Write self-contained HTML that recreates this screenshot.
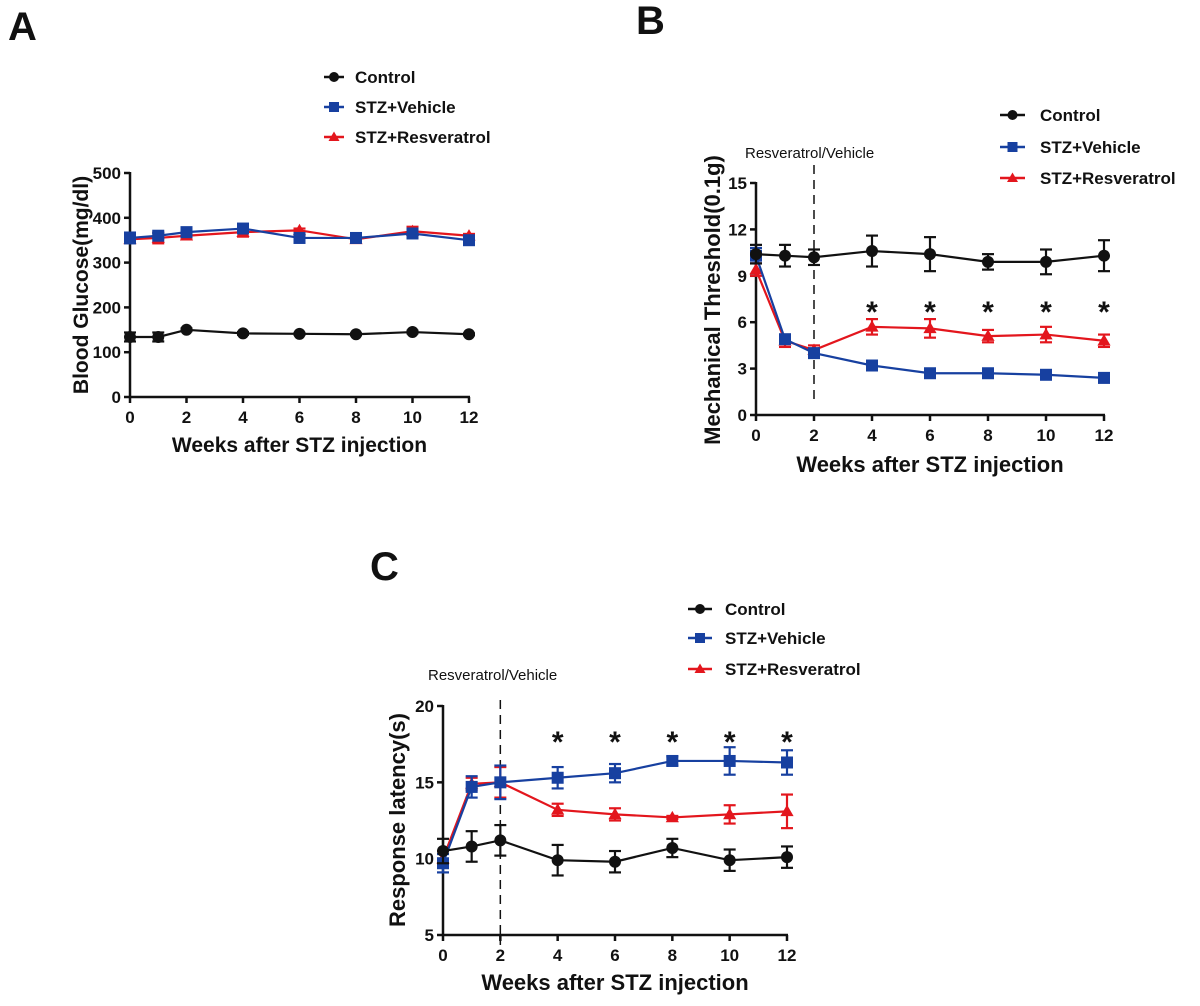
<!DOCTYPE html>
<html><head><meta charset="utf-8"><style>
html,body{margin:0;padding:0;background:#fff;}
svg{display:block;font-family:"Liberation Sans",Arial,sans-serif;}
.t{font-weight:bold;fill:#111;}
</style></head><body>
<svg id="s" width="1200" height="1006" viewBox="0 0 1200 1006" xmlns="http://www.w3.org/2000/svg">
<text x="8" y="40" class="t" font-size="40">A</text>
<text x="636" y="34" class="t" font-size="40">B</text>
<text x="370" y="580" class="t" font-size="40">C</text>
</svg>
<script>
var s=document.getElementById('s'),NS='http://www.w3.org/2000/svg';
function el(n,a,t){var e=document.createElementNS(NS,n);for(var k in a)e.setAttribute(k,a[k]);if(t!=null)e.textContent=t;s.appendChild(e);return e;}
var BK='#111',BL='#1740a0',RD='#e3161d';
function marker(type,x,y,c,r){
 if(type=='c')el('circle',{cx:x,cy:y,r:r,fill:c});
 else if(type=='s')el('rect',{x:x-r,y:y-r,width:2*r,height:2*r,fill:c});
 else el('polygon',{points:(x)+','+(y-r*1.1)+' '+(x-r*1.1)+','+(y+r*0.8)+' '+(x+r*1.1)+','+(y+r*0.8),fill:c});
}
function panel(o){
 var X=function(w){return o.x0+(o.x1-o.x0)*w/12},Y=function(v){return o.y0+(o.yt-o.y0)*(v-o.ymin)/(o.ymax-o.ymin)};
 el('line',{x1:o.x0,y1:o.yt-1,x2:o.x0,y2:o.y0+1,stroke:BK,'stroke-width':2.5});
 el('line',{x1:o.x0-1,y1:o.y0,x2:o.x1+1,y2:o.y0,stroke:BK,'stroke-width':2.5});
 o.yt2.forEach(function(v){var y=Y(v);el('line',{x1:o.x0-6,y1:y,x2:o.x0,y2:y,stroke:BK,'stroke-width':2.5});
  el('text',{x:o.x0-9,y:y+6,'text-anchor':'end','font-size':17,class:'t'},v);});
 [0,2,4,6,8,10,12].forEach(function(w){var x=X(w);el('line',{x1:x,y1:o.y0,x2:x,y2:o.y0+6,stroke:BK,'stroke-width':2.5});
  el('text',{x:x,y:o.y0+26,'text-anchor':'middle','font-size':17,class:'t'},w);});
 var wk=[0,1,2,4,6,8,10,12];
 if(o.dash){el('line',{x1:X(2),y1:o.dash[0],x2:X(2),y2:o.dash[1],stroke:BK,'stroke-width':1.5,'stroke-dasharray':'9,6'});
  el('text',{x:o.rv[0],y:o.rv[1],'font-size':15,fill:'#111'},'Resveratrol/Vehicle');}
 o.series.forEach(function(sr){
  var p=wk.map(function(w,i){return X(w)+','+Y(sr.v[i])}).join(' ');
  el('polyline',{points:p,fill:'none',stroke:sr.c,'stroke-width':2.2});
  wk.forEach(function(w,i){var e=sr.e[i],x=X(w);if(e>0){var a=Y(sr.v[i]+e),b=Y(sr.v[i]-e);
   el('line',{x1:x,y1:a,x2:x,y2:b,stroke:sr.c,'stroke-width':2.2});
   el('line',{x1:x-6,y1:a,x2:x+6,y2:a,stroke:sr.c,'stroke-width':2.2});
   el('line',{x1:x-6,y1:b,x2:x+6,y2:b,stroke:sr.c,'stroke-width':2.2});}
   marker(sr.m,x,Y(sr.v[i]),sr.c,6);});
 });
 if(o.star)[4,6,8,10,12].forEach(function(w){el('text',{x:X(w),y:o.star,'text-anchor':'middle','font-size':30,class:'t'},'*');});
 el('text',{x:(o.x0+o.x1)/2,y:o.xl,'text-anchor':'middle','font-size':o.fs,class:'t'},'Weeks after STZ injection');
 el('text',{x:0,y:0,'text-anchor':'middle','font-size':o.fs,class:'t',transform:'translate('+o.yl[0]+','+o.yl[1]+') rotate(-90)'},o.ylab);
 var L=o.leg,names=['Control','STZ+Vehicle','STZ+Resveratrol'],cs=[BK,BL,RD],ms=['c','s','t'];
 for(var i=0;i<3;i++){var y=L.y[i];el('line',{x1:L.x,y1:y,x2:L.x+L.w,y2:y,stroke:cs[i],'stroke-width':2.5});
  marker(ms[i],L.x+L.w/2,y,cs[i],5);el('text',{x:L.tx,y:y+6,'font-size':L.fs,class:'t'},names[i]);}
}
panel({x0:130,x1:469,y0:397,yt:173,ymin:0,ymax:500,yt2:[0,100,200,300,400,500],fs:21,xl:452,yl:[88,285],ylab:'Blood Glucose(mg/dl)',
 leg:{x:324,w:20,tx:355,y:[77,107,137],fs:17},
 series:[{c:RD,m:'t',v:[352,355,360,368,372,352,370,360],e:[8,12,8,10,4,4,10,4]},
 {c:BL,m:'s',v:[355,360,368,376,355,355,365,350],e:[12,6,6,4,3,3,6,3]},
 {c:BK,m:'c',v:[134,134,150,142,141,140,145,140],e:[10,10,3,3,2,2,3,2]}]});
panel({x0:756,x1:1104,y0:415,yt:183,ymin:0,ymax:15,yt2:[0,3,6,9,12,15],fs:22,xl:472,yl:[720,300],ylab:'Mechanical Threshold(0.1g)',
 dash:[165,405],rv:[745,158],star:322,
 leg:{x:1000,w:25,tx:1040,y:[115,147,178],fs:17},
 series:[{c:RD,m:'t',v:[9.4,4.8,4.2,5.7,5.6,5.1,5.2,4.8],e:[.4,.4,.3,.5,.6,.4,.5,.4]},
 {c:BL,m:'s',v:[10.3,4.9,4.0,3.2,2.7,2.7,2.6,2.4],e:[.5,.3,.3,.3,.2,.1,.1,.3]},
 {c:BK,m:'c',v:[10.4,10.3,10.2,10.6,10.4,9.9,9.9,10.3],e:[.6,.7,.5,1,1.1,.5,.8,1]}]});
panel({x0:443,x1:787,y0:935,yt:706,ymin:5,ymax:20,yt2:[5,10,15,20],fs:22,xl:990,yl:[405,820],ylab:'Response latency(s)',
 dash:[700,945],rv:[428,680],star:752,
 leg:{x:688,w:24,tx:725,y:[609,638,669],fs:17},
 series:[{c:RD,m:'t',v:[10.0,14.9,15.0,13.2,12.9,12.7,12.9,13.1],e:[.5,.4,1,.4,.4,.1,.6,1.1]},
 {c:BL,m:'s',v:[9.7,14.7,15.0,15.3,15.6,16.4,16.4,16.3],e:[.6,.7,1.1,.7,.6,.3,.9,.8]},
 {c:BK,m:'c',v:[10.5,10.8,11.2,9.9,9.8,10.7,9.9,10.1],e:[.8,1,1,1,.7,.6,.7,.7]}]});
</script>
</body></html>
